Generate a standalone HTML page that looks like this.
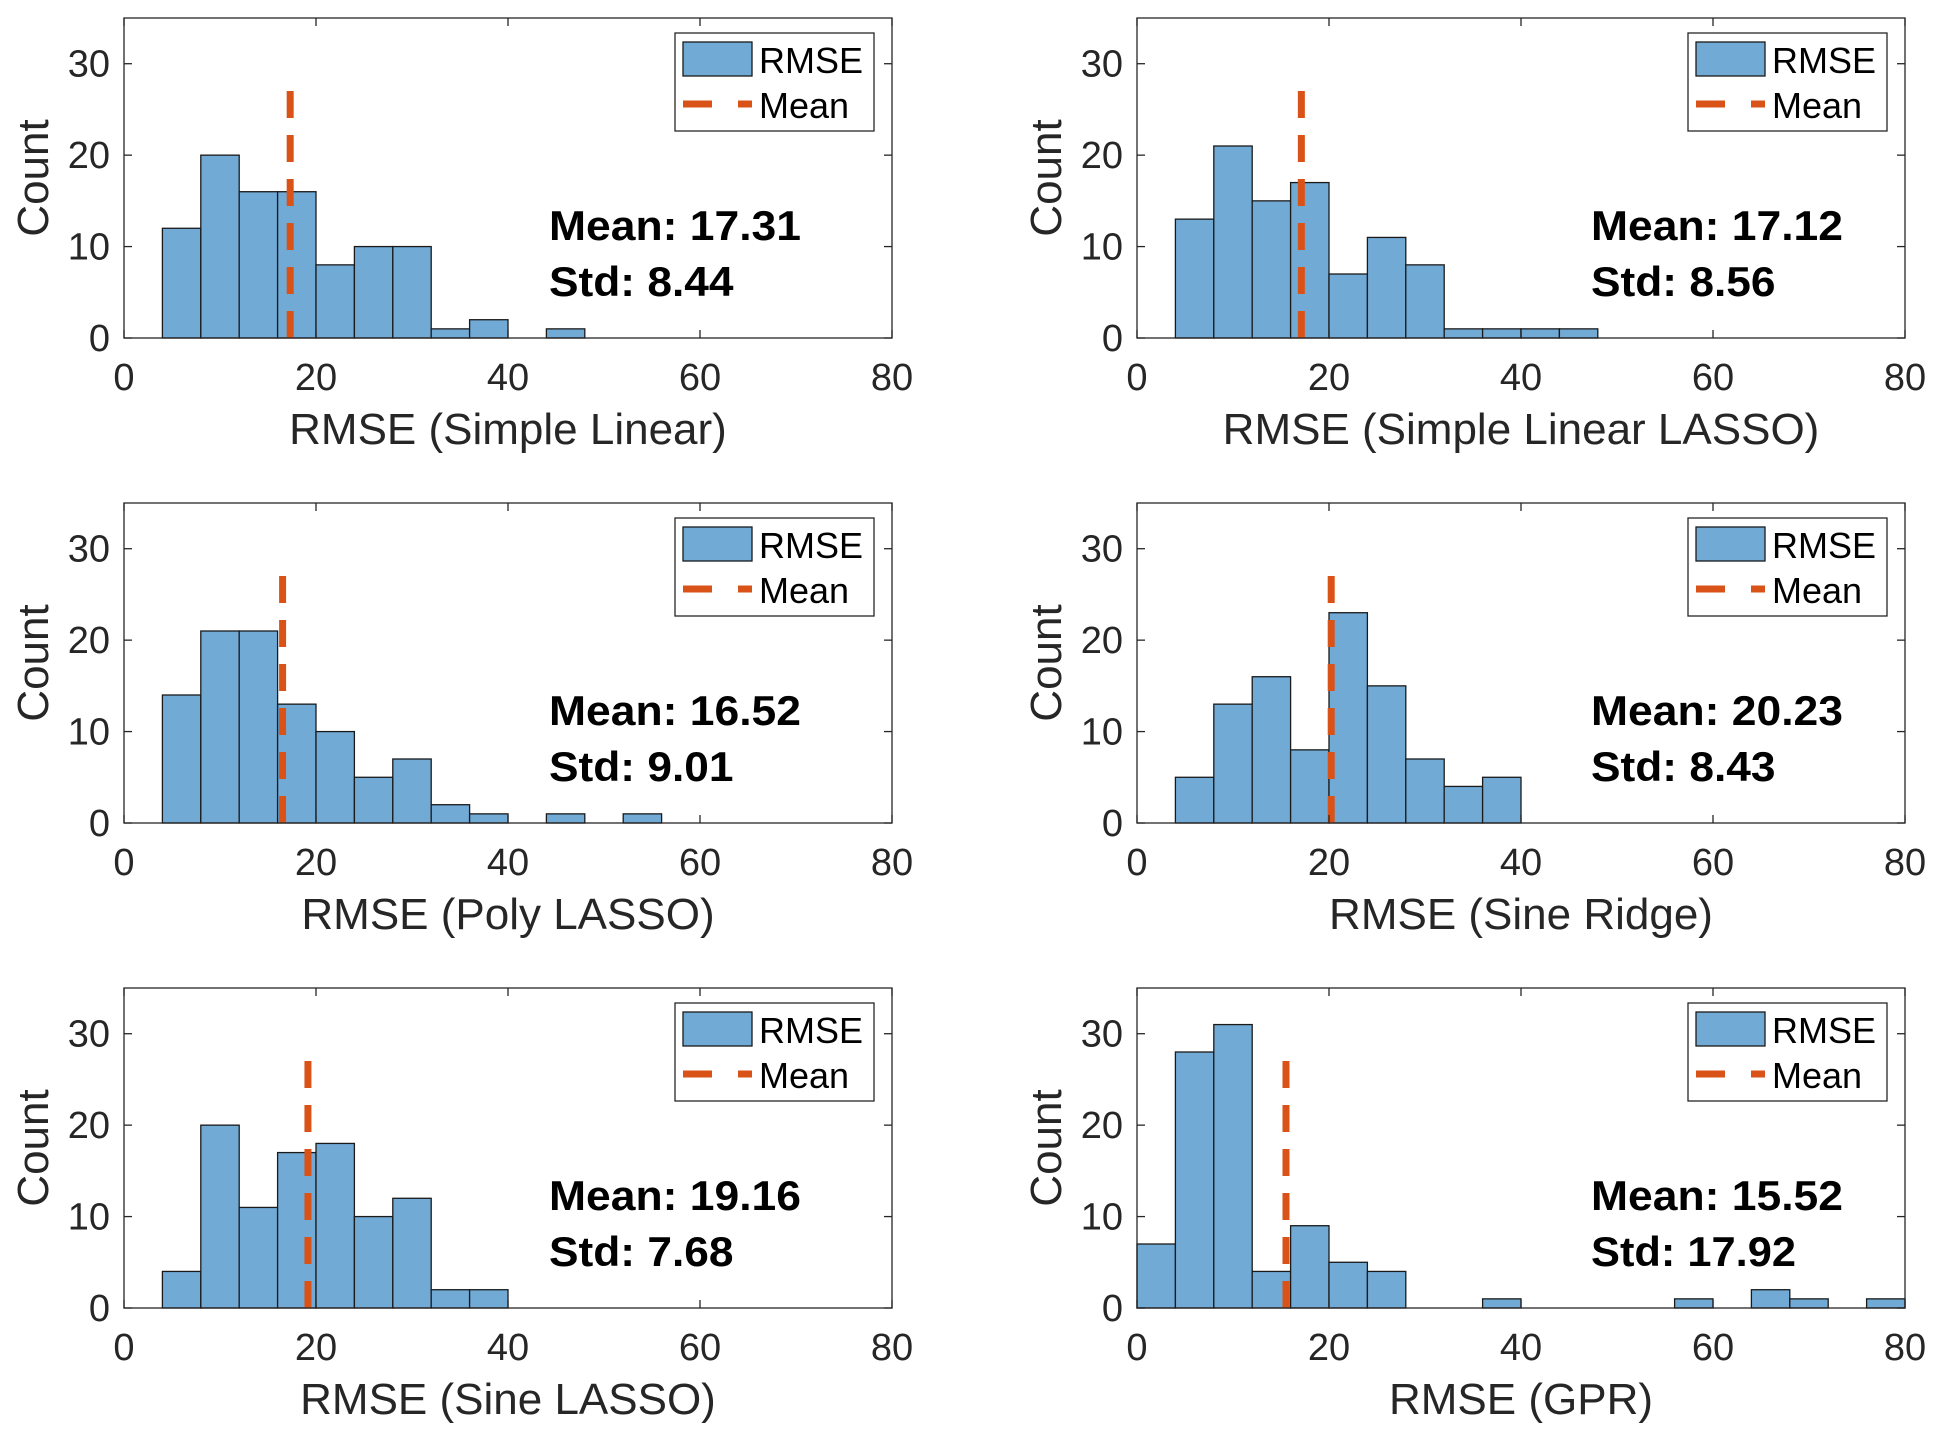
<!DOCTYPE html>
<html><head><meta charset="utf-8"><style>
html,body{margin:0;padding:0;background:#fff;}
svg{display:block;font-family:"Liberation Sans",sans-serif;}
</style></head><body>
<svg id="chart" width="1940" height="1436" viewBox="0 0 1940 1436" xmlns="http://www.w3.org/2000/svg"></svg>
<script>
const titles = ["RMSE (Simple Linear)","RMSE (Simple Linear LASSO)","RMSE (Poly LASSO)","RMSE (Sine Ridge)","RMSE (Sine LASSO)","RMSE (GPR)"];
const binStarts = [4,4,4,4,4,0];
const binWidth = 4;
const counts1 = [12,20,16,16,8,10,10,1,2,0,1];
const counts2 = [13,21,15,17,7,11,8,1,1,1,1];
const counts3 = [14,21,21,13,10,5,7,2,1,0,1,0,1];
const counts4 = [5,13,16,8,23,15,7,4,5];
const counts5 = [4,20,11,17,18,10,12,2,2];
const counts6 = [7,28,31,4,9,5,4,0,0,1,0,0,0,0,1,0,2,1,0,1];
const means = [17.31,17.12,16.52,20.23,19.16,15.52];
const stds = [8.44,8.56,9.01,8.43,7.68,17.92];
const xTicks = [0,20,40,60,80];
const yTicks = [0,10,20,30];
const allCounts=[counts1,counts2,counts3,counts4,counts5,counts6];
const NS="http://www.w3.org/2000/svg";
const svg=document.getElementById('chart');
function mk(tag,attrs,parent,text){const e=document.createElementNS(NS,tag);for(const k in attrs)e.setAttribute(k,attrs[k]);if(text!==undefined)e.textContent=text;(parent||svg).appendChild(e);return e;}
const W=768,H=320;
const lefts=[124,1137], tops=[18,503,988];
const statOff=[425,454];
for(let p=0;p<6;p++){
  const L=lefts[p%2], T=tops[Math.floor(p/2)];
  const xs=v=>L+v/80*W, ys=v=>T+H-v/35*H;
  const g=mk('g',{});
  
  
  allCounts[p].forEach((c,i)=>{
    if(c<=0)return;
    const x0=binStarts[p]+i*binWidth;
    const r=mk('rect',{x:xs(x0),y:ys(c),width:xs(x0+binWidth)-xs(x0),height:ys(0)-ys(c),fill:'#72aad6',stroke:'#1a1a1a','stroke-width':1.3},g);
    
    
  });
  const ml=mk('line',{x1:xs(means[p]),x2:xs(means[p]),y1:ys(0),y2:ys(27.2),stroke:'#d95319','stroke-width':7,'stroke-dasharray':'27 17'},g);
  
  
  const box=mk('rect',{x:L,y:T,width:W,height:H,fill:'none',stroke:'#262626','stroke-width':1.3},g);
  
  
  xTicks.forEach(t=>{
    mk('line',{x1:xs(t),x2:xs(t),y1:T+H,y2:T+H-8,stroke:'#262626','stroke-width':1.3},g);
    mk('line',{x1:xs(t),x2:xs(t),y1:T,y2:T+8,stroke:'#262626','stroke-width':1.3},g);
    const tl=mk('text',{x:xs(t),y:T+H+52,'text-anchor':'middle','font-size':38,fill:'#262626'},g,String(t));
    
    
  });
  yTicks.forEach(t=>{
    mk('line',{x1:L,x2:L+8,y1:ys(t),y2:ys(t),stroke:'#262626','stroke-width':1.3},g);
    mk('line',{x1:L+W,x2:L+W-8,y1:ys(t),y2:ys(t),stroke:'#262626','stroke-width':1.3},g);
    const tl=mk('text',{x:L-14,y:ys(t)+13,'text-anchor':'end','font-size':38,fill:'#262626'},g,String(t));
    
    
  });
  const yl=mk('text',{x:0,y:0,'text-anchor':'middle','font-size':44,fill:'#262626',transform:`translate(${L-76},${T+H/2}) rotate(-90)`},g,'Count');
  
  
  const xl=mk('text',{x:L+W/2,y:T+H+106,'text-anchor':'middle','font-size':44,fill:'#262626'},g,titles[p]);
  
  
  const so=statOff[p%2];
  const s1=mk('text',{x:L+so,y:T+222,'font-size':42,'font-weight':'bold',fill:'#000',textLength:252,lengthAdjust:'spacingAndGlyphs'},g,'Mean: '+means[p].toFixed(2));
  
  
  const sd='Std: '+stds[p].toFixed(2);
  const s2=mk('text',{x:L+so,y:T+278,'font-size':42,'font-weight':'bold',fill:'#000',textLength:sd.length*20.5,lengthAdjust:'spacingAndGlyphs'},g,sd);
  
  
  const lx=L+W-217, ly=T+15;
  const lg=mk('g',{},g);
  
  
  mk('rect',{x:lx,y:ly,width:199,height:98,fill:'#fff',stroke:'#262626','stroke-width':1.3},lg);
  mk('rect',{x:lx+8,y:ly+9,width:69,height:34,fill:'#72aad6',stroke:'#1a1a1a','stroke-width':1.3},lg);
  const t1=mk('text',{x:lx+84,y:ly+40,'font-size':36,fill:'#000'},lg,'RMSE');
  
  
  mk('line',{x1:lx+8,x2:lx+77,y1:ly+71,y2:ly+71,stroke:'#d95319','stroke-width':7,'stroke-dasharray':'29 26'},lg);
  const t2=mk('text',{x:lx+84,y:ly+85,'font-size':36,fill:'#000'},lg,'Mean');
  
  
}
</script>
</body></html>
